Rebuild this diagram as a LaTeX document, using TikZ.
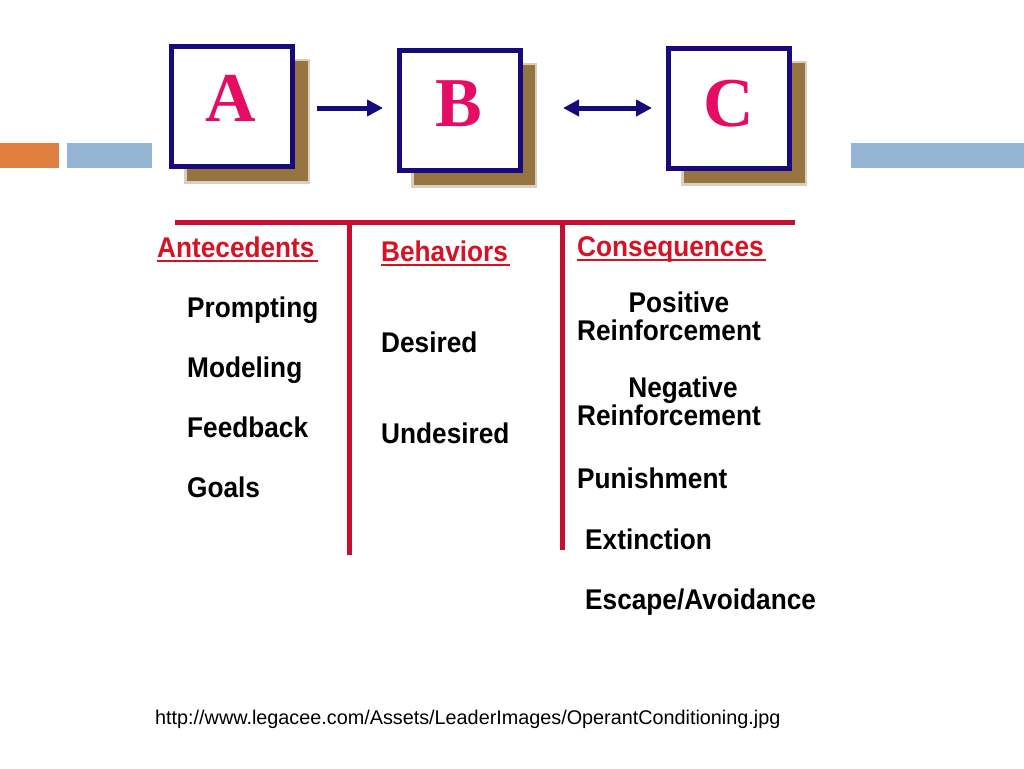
\documentclass[tikz,border=0pt]{standalone}
\usepackage{fontspec}
\setmainfont{Liberation Sans}
\newfontfamily\serifbold{Liberation Serif}[BoldFont={* Bold}]
\usetikzlibrary{arrows.meta}
\definecolor{navy}{RGB}{22,10,125}
\definecolor{letter}{RGB}{230,12,100}
\definecolor{shadowc}{RGB}{150,116,66}
\definecolor{hred}{RGB}{214,18,36}
\definecolor{lred}{RGB}{196,16,46}
\definecolor{orangebar}{RGB}{224,128,64}
\definecolor{bluebar}{RGB}{148,182,212}
\newcommand\narrowtxt[1]{\scalebox{0.92}[1]{#1}}
\tikzset{
  box/.style={draw=navy, line width=5pt, fill=white, minimum width=121pt, minimum height=120pt, inner sep=0pt},
  shad/.style={fill=shadowc, minimum width=126pt, minimum height=125pt, inner sep=0pt},
  lett/.style={text=letter, font=\serifbold\bfseries\fontsize{70}{80}\selectfont, inner sep=0pt, anchor=base},
  arr/.style={draw=navy, line width=5pt, -{Triangle[length=16pt,width=16pt]}},
  darr/.style={draw=navy, line width=5pt, {Triangle[length=16pt,width=16pt]}-{Triangle[length=16pt,width=16pt]}},
  redline/.style={draw=lred, line width=5pt},
  head/.style={text=hred, font=\bfseries\fontsize{28.5}{34}\selectfont, inner sep=0pt, anchor=base west},
  item/.style={text=black, font=\bfseries\fontsize{28.5}{34}\selectfont, inner sep=0pt, anchor=base west},
  uline/.style={draw=hred, line width=2pt}
}
\begin{document}
\begin{tikzpicture}[x=1pt,y=-1pt]
\useasboundingbox (0,0) rectangle (1024,768);
\fill[white] (0,0) rectangle (1024,768);
% side bars
\fill[orangebar] (0,143) rectangle (59,168);
\fill[bluebar] (67,143) rectangle (152,168);
\fill[bluebar] (851,143) rectangle (1024,168);
% shadows
\node[shad, fill opacity=0.35] (sA) at (247,121) {};
\node[shad, fill opacity=0.35] (sB) at (474,125) {};
\node[shad, fill opacity=0.35] (sC) at (744,123) {};
\node[shad, minimum width=121pt, minimum height=120pt] (sA2) at (247,121) {};
\node[shad, minimum width=121pt, minimum height=120pt] (sB2) at (474,125) {};
\node[shad, minimum width=121pt, minimum height=120pt] (sC2) at (744,123) {};
% boxes
\node[box] (A) at (232,106.5) {};
\node[box] (B) at (460,110.5) {};
\node[box] (C) at (729,108.5) {};
\node[lett] (lA) at (231,121) {A};
\node[lett] (lB) at (459,126) {B};
\node[lett] (lC) at (729,126) {C};
% arrows
\draw[arr] ([xshift=22pt,yshift=-1.5pt]A.east) -- ([xshift=-14pt,yshift=2.5pt]B.west);
\draw[darr] ([xshift=40pt,yshift=2.5pt]B.east) -- ([xshift=-14pt,yshift=0.5pt]C.west);
% red lines
\coordinate (hl) at (175,222);
\coordinate (hr) at (795,222);
\coordinate (v1t) at (349,222);
\coordinate (v1b) at (349,555);
\coordinate (v2t) at (562,222);
\coordinate (v2b) at (562,550);
\draw[redline] (hl) -- (hr);
\draw[redline] (v1t) -- (v1b);
\draw[redline] (v2t) -- (v2b);
% headings
\node[head] (hA) at (157,257) {\narrowtxt{Antecedents}};
\node[head] (hB) at (381,261) {\narrowtxt{Behaviors}};
\node[head] (hC) at (577,256) {\narrowtxt{Consequences}};
\draw[uline] ([yshift=-4pt]hA.base west) -- ([xshift=3pt,yshift=-4pt]hA.base east);
\draw[uline] ([yshift=-4pt]hB.base west) -- ([xshift=2pt,yshift=-4pt]hB.base east);
\draw[uline] ([yshift=-4pt]hC.base west) -- ([xshift=2pt,yshift=-4pt]hC.base east);
% antecedents
\node[item] (a1) at (187,317) {\narrowtxt{Prompting}};
\node[item] (a2) at (187,377) {\narrowtxt{Modeling}};
\node[item] (a3) at (187,437) {\narrowtxt{Feedback}};
\node[item] (a4) at (187,497) {\narrowtxt{Goals}};
% behaviors
\node[item] (b1) at (381,352) {\narrowtxt{Desired}};
\node[item] (b2) at (381,443) {\narrowtxt{Undesired}};
% consequences
\node[item, anchor=base] (c1) at (679,312) {\narrowtxt{Positive}};
\node[item] (c2) at (577,340) {\narrowtxt{Reinforcement}};
\node[item, anchor=base] (c3) at (683,397) {\narrowtxt{Negative}};
\node[item] (c4) at (577,425) {\narrowtxt{Reinforcement}};
\node[item] (c5) at (577,488) {\narrowtxt{Punishment}};
\node[item] (c6) at (585,549) {\narrowtxt{Extinction}};
\node[item] (c7) at (585,609) {\narrowtxt{Escape/Avoidance}};
% url
\node[anchor=base west, inner sep=0pt, font=\fontsize{19.8}{23}\selectfont] (url) at (155,724) {http://www.legacee.com/Assets/LeaderImages/OperantConditioning.jpg};
\end{tikzpicture}
\end{document}
